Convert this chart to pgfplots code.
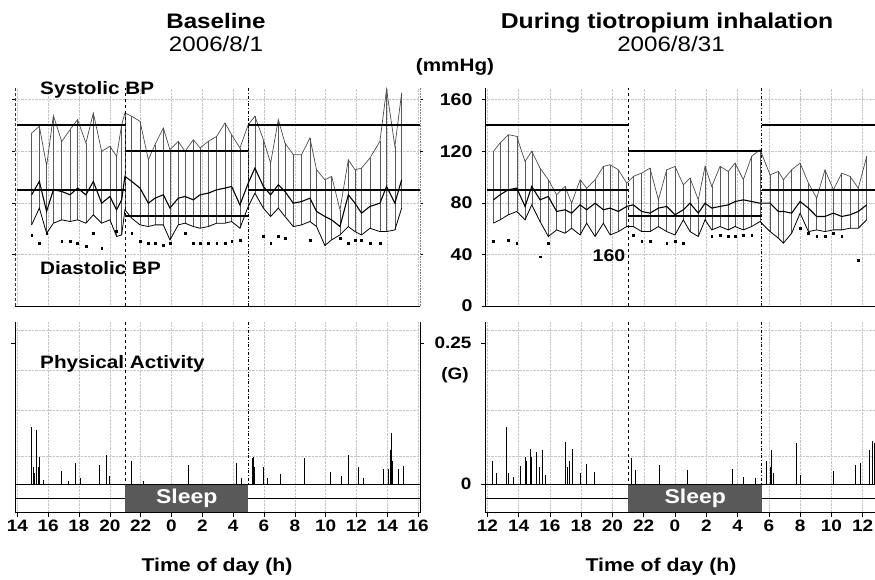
\documentclass[border=0pt]{standalone}
\usepackage{pgfplots}
\pgfplotsset{compat=1.18}
\usepackage{pgfplotstable}
\usepackage{fontspec}
\setmainfont{Liberation Sans}[FakeStretch=1.15]
\newcommand{\fs}[1]{\fontsize{#1}{#1}\selectfont}
\definecolor{sleepgray}{HTML}{595959}

% ambulatory BP readings, hours counted from midnight of day 1
\pgfplotstableread{
h sys mean dia pr
14.93 134.1 86.2 62.9 55.1
15.43 139.3 96.6 75.9 48.7
15.90 108.7 73.3 56.4 56.4
16.34 147.6 90.1 64.2 nan
16.88 127.6 88.8 66.8 50.0
17.42 136.7 86.2 65.5 50.0
17.91 144.5 91.4 66.8 48.7
18.45 126.3 86.2 64.2 46.1
18.93 149.6 96.6 70.7 56.4
19.47 119.9 79.7 64.2 44.8
20.01 123.8 84.9 66.8 nan
20.44 116.0 74.6 53.9 57.7
20.77 140.6 82.3 55.1 nan
20.98 149.6 100.5 74.6 nan
21.42 147.1 96.6 68.1 56.4
21.96 143.2 91.4 62.9 50.0
22.50 113.4 79.7 61.6 48.7
22.93 125.0 83.6 62.9 48.7
23.47 138.0 86.2 62.9 47.4
23.90 121.2 75.9 51.3 48.7
24.44 127.6 83.6 62.9 nan
24.88 119.9 84.9 64.2 56.4
25.42 128.9 82.3 61.6 48.7
25.85 122.5 86.2 60.3 48.7
26.39 127.6 87.5 61.6 48.7
26.93 131.5 90.1 64.2 48.7
27.47 141.9 91.4 64.2 48.7
27.90 132.8 92.7 65.5 50.0
28.44 122.5 78.4 60.3 51.3
28.98 140.6 95.3 77.2 nan
29.41 147.1 106.9 87.5 nan
29.96 128.9 92.7 75.9 53.9
30.43 110.8 86.2 69.4 48.7
30.93 144.5 94.0 75.9 53.9
31.36 126.3 88.8 69.4 52.6
31.90 117.3 79.7 61.6 nan
32.44 117.3 81.0 62.9 nan
32.98 130.2 83.6 65.5 51.3
33.41 105.6 73.3 61.6 nan
33.95 97.9 69.4 46.9 nan
34.39 100.5 66.8 51.3 nan
34.93 74.6 61.6 55.1 52.6
35.47 113.4 86.2 61.6 48.7
35.90 105.6 79.7 57.7 51.3
36.33 106.9 72.0 55.1 51.3
36.87 114.7 77.2 60.3 48.7
37.52 127.6 79.7 57.7 48.7
37.95 168.0 92.7 57.7 nan
38.49 123.8 79.7 59.0 nan
38.93 165.2 97.9 75.9 nan
}\leftbp

\pgfplotstableread{
h sys mean dia pr
12.39 119.9 82.3 64.2 50.0
12.81 126.3 86.2 66.8 nan
13.34 132.8 90.1 70.7 51.3
13.88 131.5 91.4 73.3 48.7
14.41 112.1 77.2 66.8 nan
14.84 119.9 92.7 78.4 nan
15.37 106.9 82.3 65.5 38.2
15.90 97.9 84.9 53.9 48.7
16.43 86.2 73.3 59.0 nan
16.97 92.7 74.6 56.4 nan
17.39 79.7 72.0 60.3 nan
17.93 97.9 78.4 55.1 nan
18.35 91.4 74.6 64.2 nan
18.89 97.9 79.7 53.9 nan
19.42 108.2 74.6 64.2 nan
19.85 109.5 75.9 55.1 nan
20.38 105.6 73.3 57.7 nan
20.91 95.3 77.2 61.6 nan
21.34 100.5 78.4 61.6 55.1
21.87 103.0 73.3 57.7 50.0
22.40 106.9 72.0 57.7 50.0
22.94 82.3 75.9 61.6 nan
23.47 105.6 77.2 57.7 48.7
24.00 108.2 70.7 55.1 50.0
24.53 94.0 74.6 66.8 48.7
24.96 99.2 79.7 57.7 nan
25.49 82.3 72.0 53.9 nan
25.92 108.2 79.7 66.8 nan
26.35 92.7 75.9 59.0 53.9
26.88 108.2 77.2 61.6 55.1
27.41 104.3 78.4 59.0 53.9
27.84 110.8 81.0 61.6 53.9
28.37 97.9 82.3 59.0 55.1
28.90 116.0 81.0 61.6 55.1
29.44 121.2 79.7 65.5 nan
30.08 101.7 79.7 57.7 nan
30.61 104.3 73.3 52.6 nan
30.93 97.9 73.3 48.7 nan
31.46 105.6 72.0 56.4 nan
32.00 110.8 81.0 72.0 60.3
32.53 95.3 75.9 57.7 56.4
33.06 83.6 69.4 59.0 53.9
33.59 105.6 69.4 57.7 53.9
34.13 90.1 72.0 59.0 56.4
34.66 103.0 69.4 59.0 53.9
35.19 100.5 70.7 60.3 nan
35.72 91.4 73.3 60.3 35.6
36.26 116.0 78.4 66.8 nan
}\rightbp

% physical activity peaks (G)
\pgfplotstableread{
h g
14.93 0.102
15.04 0.030
15.12 0.020
15.26 0.096
15.35 0.030
15.43 0.048
15.69 0.008
16.83 0.023
17.30 0.006
17.74 0.038
18.07 0.010
19.32 0.034
19.80 0.051
19.95 0.015
21.38 0.030
21.42 0.040
22.20 0.005
25.09 0.034
28.23 0.038
28.55 0.010
29.24 0.046
29.31 0.048
29.40 0.030
29.96 0.031
30.20 0.010
31.04 0.017
32.59 0.046
32.62 0.030
34.28 0.022
35.03 0.014
35.47 0.051
36.12 0.031
36.44 0.010
37.74 0.026
38.06 0.026
38.20 0.060
38.28 0.090
38.35 0.040
38.71 0.026
39.03 0.032
}\leftact

\pgfplotstableread{
h g
12.34 0.040
12.60 0.019
13.20 0.102
13.34 0.019
13.66 0.013
14.13 0.032
14.41 0.048
14.52 0.040
14.73 0.063
14.84 0.048
15.16 0.057
15.33 0.031
15.50 0.061
15.69 0.016
16.97 0.075
17.12 0.031
17.24 0.040
17.44 0.063
17.97 0.019
18.31 0.035
18.82 0.022
21.23 0.047
21.44 0.025
23.00 0.034
24.79 0.025
27.69 0.026
28.37 0.013
29.11 0.010
29.86 0.040
30.07 0.031
30.18 0.060
30.29 0.019
31.78 0.073
32.00 0.016
34.12 0.024
35.51 0.034
35.87 0.037
36.43 0.061
36.64 0.077
36.75 0.072
}\rightact

\tikzset{gridl/.style={densely dotted, gray!45, line width=0.4pt}}
\pgfplotsset{
  panel/.style={scale only axis, anchor=south west, axis line style={draw=none}, clip=false,
    xmajorgrids, major grid style={densely dotted, gray!45, line width=0.4pt},
    tick style={black, line width=0.6pt}, major tick length=3pt, tick align=outside},
  bp/.style={panel, height=218pt, ymin=0, ymax=169, ymajorgrids, ytick={40,80,120,160},
    xticklabels={}, yticklabels={}, xtick style={draw=none}},
  act/.style={panel, height=190.6pt, ymin=-0.051, ymax=0.287, ytick={0.25}, yticklabels={},
    xtick pos=left, major tick length=4pt, xticklabel style={font=\bfseries\fs{16.5}}},
  sysline/.style={gray!60!black, line width=0.7pt},
  meanline/.style={black, line width=1.1pt},
  dialine/.style={black, line width=0.8pt},
  thresh/.style={draw=black, line width=1.9pt, mark=none},
  dots/.style={only marks, mark=square*, mark size=0.9pt, black},
  comb/.style={ycomb, black, line width=0.7pt, mark=none},
  bars/.style={draw=none, mark=none, forget plot, error bars/.cd, y dir=minus, y explicit,
    error mark=none, error bar style={draw=gray!70!black, line width=0.5pt}},
}

\begin{document}
\begin{tikzpicture}
\useasboundingbox (0,0) rectangle (875pt,-579pt);

% ---- baseline, blood pressure
\begin{axis}[bp, at={(15pt,-306pt)}, width=405pt, xmin=13.85, xmax=40.12, xtick={14,16,...,40}]
\addplot[bars] table[x=h, y=sys, y error minus expr={\thisrow{sys}-\thisrow{dia}}] {\leftbp};
\addplot[sysline] table[x=h, y=sys] {\leftbp};
\addplot[meanline] table[x=h, y=mean] {\leftbp};
\addplot[dialine] table[x=h, y=dia] {\leftbp};
\addplot[dots] table[x=h, y=pr] {\leftbp};
\addplot[thresh] coordinates {(21.0,120) (28.97,120)};
\addplot[thresh] coordinates {(13.95,90) (21.0,90)};
\addplot[thresh] coordinates {(21.0,70) (28.97,70)};
\addplot[thresh] coordinates {(28.97,90) (40.12,90)};
\addplot[thresh] coordinates {(13.95,140.3) (21.0,140.3)};
\addplot[thresh] coordinates {(28.97,140.3) (40.12,140.3)};
\draw[black, line width=1pt] (rel axis cs:0,0) -- (rel axis cs:1,0);
\draw[black!80, densely dashed, line width=0.6pt] (rel axis cs:0,0) -- (rel axis cs:0,1);
\draw[gray, densely dotted, line width=0.6pt] (rel axis cs:1,0) -- (rel axis cs:1,1);
\draw[black, dashed, line width=0.6pt] (axis cs:21.0,0) -- (axis cs:21.0,169);
\draw[black, dashdotted, line width=0.6pt] (axis cs:28.97,0) -- (axis cs:28.97,169);
\end{axis}

% ---- tiotropium, blood pressure
\begin{axis}[bp, at={(485pt,-306pt)}, width=390pt, xmin=11.85, xmax=36.79, xtick={12,14,...,36},
  ytick={0,40,80,120,160}, yticklabels={0,40,80,120,160}, ytick pos=left,
  yticklabel style={font=\bfseries\fs{17}, xshift=-6pt}]
\addplot[bars] table[x=h, y=sys, y error minus expr={\thisrow{sys}-\thisrow{dia}}] {\rightbp};
\addplot[sysline] table[x=h, y=sys] {\rightbp};
\addplot[meanline] table[x=h, y=mean] {\rightbp};
\addplot[dialine] table[x=h, y=dia] {\rightbp};
\addplot[dots] table[x=h, y=pr] {\rightbp};
\addplot[thresh] coordinates {(21.0,120) (29.55,120)};
\addplot[thresh] coordinates {(11.95,90) (21.0,90)};
\addplot[thresh] coordinates {(21.0,70) (29.55,70)};
\addplot[thresh] coordinates {(29.55,90) (36.79,90)};
\addplot[thresh] coordinates {(11.85,140.3) (21.0,140.3)};
\addplot[thresh] coordinates {(29.55,140.3) (36.79,140.3)};
\draw[black, line width=1pt] (rel axis cs:0,0) -- (rel axis cs:1,0);
\draw[black, line width=0.8pt] (rel axis cs:0,0) -- (rel axis cs:0,1);
\draw[black, dashed, line width=0.6pt] (axis cs:21.0,0) -- (axis cs:21.0,169);
\draw[black, dashdotted, line width=0.6pt] (axis cs:29.55,0) -- (axis cs:29.55,169);
\end{axis}

% ---- baseline, activity
\begin{axis}[act, at={(15pt,-512.8pt)}, width=405pt, xmin=13.85, xmax=40.12,
  xtick={14,16,...,40}, xticklabels={14,16,18,20,22,0,2,4,6,8,10,12,14,16}]
\draw[gridl] (axis cs:13.85,0.05) -- (axis cs:40.12,0.05);
\draw[gridl] (axis cs:13.85,0.131) -- (axis cs:40.12,0.131);
\draw[gridl] (axis cs:13.85,0.202) -- (axis cs:40.12,0.202);
\draw[gridl] (axis cs:13.85,0.273) -- (axis cs:40.12,0.273);
\fill[sleepgray] (axis cs:21.0,0) rectangle (axis cs:28.97,-0.051);
\node[white, font=\bfseries\fs{20}] at (axis cs:24.99,-0.0255) {Sleep};
\addplot[comb] table[x=h, y=g] {\leftact};
\draw[black, line width=1pt] (axis cs:13.85,0) -- (axis cs:40.12,0);
\draw[black, line width=0.9pt] (axis cs:13.85,-0.025) -- (axis cs:21.0,-0.025);
\draw[black, line width=0.9pt] (axis cs:28.97,-0.025) -- (axis cs:40.12,-0.025);
\draw[black, line width=0.9pt] (rel axis cs:0,0) -- (rel axis cs:1,0);
\draw[black, line width=0.7pt] (rel axis cs:0,0) -- (rel axis cs:0,1);
\draw[black, line width=0.7pt] (rel axis cs:1,0) -- (rel axis cs:1,1);
\draw[black, dashed, line width=0.6pt] (axis cs:21.0,0.287) -- (axis cs:21.0,0);
\draw[black, dashdotted, line width=0.6pt] (axis cs:28.97,0.287) -- (axis cs:28.97,0);
\end{axis}

% ---- tiotropium, activity
\begin{axis}[act, at={(485pt,-512.8pt)}, width=390pt, xmin=11.85, xmax=36.79,
  xtick={12,14,...,36}, xticklabels={12,14,16,18,20,22,0,2,4,6,8,10,12},
  ytick={0,0.25}, yticklabels={0,0.25}, ytick pos=left,
  yticklabel style={font=\bfseries\fs{16.5}, xshift=-6pt}]
\draw[gridl] (axis cs:11.85,0.05) -- (axis cs:36.79,0.05);
\draw[gridl] (axis cs:11.85,0.131) -- (axis cs:36.79,0.131);
\draw[gridl] (axis cs:11.85,0.202) -- (axis cs:36.79,0.202);
\draw[gridl] (axis cs:11.85,0.273) -- (axis cs:36.79,0.273);
\fill[sleepgray] (axis cs:21.0,0) rectangle (axis cs:29.55,-0.051);
\node[white, font=\bfseries\fs{20}] at (axis cs:25.3,-0.0255) {Sleep};
\addplot[comb] table[x=h, y=g] {\rightact};
\draw[black, line width=1pt] (axis cs:11.85,0) -- (axis cs:36.79,0);
\draw[black, line width=0.9pt] (axis cs:11.85,-0.025) -- (axis cs:21.0,-0.025);
\draw[black, line width=0.9pt] (axis cs:29.55,-0.025) -- (axis cs:36.79,-0.025);
\draw[black, line width=0.9pt] (rel axis cs:0,0) -- (rel axis cs:1,0);
\draw[black, line width=0.7pt] (rel axis cs:0,0) -- (rel axis cs:0,1);
\draw[black, dashed, line width=0.6pt] (axis cs:21.0,0.287) -- (axis cs:21.0,0);
\draw[black, dashdotted, line width=0.6pt] (axis cs:29.55,0.287) -- (axis cs:29.55,0);
\end{axis}

% ---- titles and labels
\node[anchor=base, inner sep=0, font=\bfseries\fs{21}] at (216pt,-28pt) {Baseline};
\node[anchor=base, inner sep=0, font=\fs{21}] at (216pt,-51pt) {2006/8/1};
\node[anchor=base, inner sep=0, font=\bfseries\fs{21.5}] at (667pt,-28pt) {During tiotropium inhalation};
\node[anchor=base, inner sep=0, font=\fs{21}] at (671pt,-51pt) {2006/8/31};
\node[anchor=base, inner sep=0, font=\bfseries\fs{18}] at (455pt,-71pt) {(mmHg)};
\node[anchor=base west, inner sep=0, font=\bfseries\fs{18}] at (40pt,-94pt) {Systolic BP};
\node[anchor=base west, inner sep=0, font=\bfseries\fs{18}] at (40pt,-274pt) {Diastolic BP};
\node[anchor=base west, inner sep=0, font=\bfseries\fs{18}] at (40pt,-368pt) {Physical Activity};
\node[inner sep=0, font=\bfseries\fs{16.5}] at (455pt,-375pt) {(G)};
\node[inner sep=0, font=\bfseries\fs{17}] at (609pt,-256pt) {160};
\node[anchor=base, inner sep=0, font=\bfseries\fs{18.5}] at (217pt,-571pt) {Time of day (h)};
\node[anchor=base, inner sep=0, font=\bfseries\fs{18.5}] at (661pt,-571pt) {Time of day (h)};
\end{tikzpicture}
\end{document}
